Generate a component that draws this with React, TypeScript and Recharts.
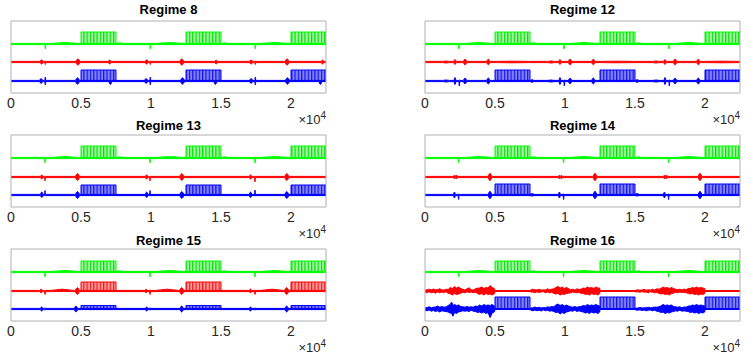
import React from 'react';
import { ComposedChart, Area, XAxis, YAxis } from 'recharts';

type Feature = [number, number, number, number]; // [x, halfWidth, up, down]
type Noise = [number, number, number]; // [x, down, up]

const X_MAX = 22500;
const Y_MAX = 7.2;
const X_TICKS = [0, 5000, 10000, 15000, 20000];
const X_TICK_LABELS = ['0', '0.5', '1', '1.5', '2'];
const Y_TICKS = [2.4];
const BLOCK_SPANS: [number, number][] = [[5000, 7500], [12500, 15000], [20000, 22500]];
const TITLES = ['Regime 8', 'Regime 12', 'Regime 13', 'Regime 14', 'Regime 15', 'Regime 16'];

// ---- Regime 8 ----
const R8_LEVELS = { green: [4.9, 6.1], red: [3.1], blue: [1.2, 2.3] };
const R8_GREEN: Feature[] = [[2450, 40, 0.05, 0.5], [3850, 950, 0.15, 0.06], [7750, 250, 0.12, 0.05], [9950, 40, 0.05, 0.5], [11350, 950, 0.15, 0.06], [15250, 250, 0.12, 0.05], [17450, 40, 0.05, 0.5], [18850, 950, 0.15, 0.06]];
const R8_RED: Feature[] = [[2190, 130, 0.22, 0.22], [2450, 40, 0.08, 0.25], [4780, 170, 0.32, 0.32], [7050, 120, 0.2, 0.2], [9690, 130, 0.22, 0.22], [9950, 40, 0.08, 0.25], [12200, 170, 0.32, 0.32], [14650, 120, 0.2, 0.2], [17150, 130, 0.22, 0.22], [17450, 40, 0.08, 0.25], [19720, 170, 0.32, 0.32], [22250, 110, 0.2, 0.2]];
const R8_BLUE: Feature[] = [[2150, 130, 0.25, 0.25], [2450, 40, 0.4, 0.4], [4750, 170, 0.32, 0.32], [7100, 130, 0.05, 0.35], [9650, 130, 0.25, 0.25], [9950, 40, 0.4, 0.4], [12250, 170, 0.32, 0.32], [14600, 130, 0.05, 0.35], [17150, 130, 0.25, 0.25], [17450, 40, 0.4, 0.4], [19750, 170, 0.32, 0.32], [22100, 130, 0.05, 0.35]];

// ---- Regime 12 ----
const R12_LEVELS = { green: [4.9, 6.1], red: [3.1], blue: [1.2, 2.3] };
const R12_GREEN: Feature[] = [[2420, 40, 0.05, 0.5], [3850, 950, 0.15, 0.06], [7750, 250, 0.12, 0.05], [9930, 40, 0.05, 0.5], [11350, 950, 0.15, 0.06], [15250, 250, 0.12, 0.05], [17430, 40, 0.05, 0.5], [18850, 950, 0.15, 0.06]];
const R12_RED: Feature[] = [[1500, 250, 0.1, 0.1], [2140, 110, 0.25, 0.25], [2860, 140, 0.3, 0.3], [4520, 140, 0.28, 0.28], [6250, 1150, 0.08, 0.08], [9000, 250, 0.1, 0.1], [9640, 110, 0.25, 0.25], [10360, 140, 0.3, 0.3], [12020, 140, 0.28, 0.28], [13750, 1150, 0.08, 0.08], [16500, 250, 0.1, 0.1], [17140, 110, 0.25, 0.25], [17860, 140, 0.3, 0.3], [19520, 140, 0.28, 0.28], [21250, 1150, 0.08, 0.08]];
const R12_BLUE: Feature[] = [[1500, 250, 0.1, 0.1], [2140, 80, 0.35, 0.35], [2450, 40, 0.1, 0.5], [2860, 140, 0.3, 0.3], [4520, 140, 0.3, 0.3], [7650, 120, 0.15, 0.15], [9000, 250, 0.1, 0.1], [9640, 80, 0.35, 0.35], [9950, 40, 0.1, 0.5], [10360, 140, 0.3, 0.3], [12020, 140, 0.3, 0.3], [15150, 120, 0.15, 0.15], [16500, 250, 0.1, 0.1], [17140, 80, 0.35, 0.35], [17450, 40, 0.1, 0.5], [17860, 140, 0.3, 0.3], [19520, 140, 0.3, 0.3]];

// ---- Regime 13 ----
const R13_LEVELS = { green: [4.9, 6.1], red: [3.0], blue: [1.2, 2.2] };
const R13_GREEN: Feature[] = [[2430, 40, 0.05, 0.5], [3850, 950, 0.15, 0.06], [7750, 250, 0.12, 0.05], [9930, 40, 0.05, 0.5], [11350, 950, 0.15, 0.06], [15250, 250, 0.12, 0.05], [17430, 40, 0.05, 0.5], [18850, 950, 0.15, 0.06]];
const R13_RED: Feature[] = [[2200, 120, 0.2, 0.2], [2430, 40, 0.05, 0.4], [4750, 170, 0.35, 0.35], [9690, 120, 0.2, 0.2], [9930, 40, 0.05, 0.4], [12200, 170, 0.35, 0.35], [17110, 120, 0.2, 0.2], [17430, 40, 0.05, 0.5], [19700, 170, 0.35, 0.35]];
const R13_BLUE: Feature[] = [[2200, 120, 0.3, 0.25], [2430, 40, 0.45, 0.1], [4750, 170, 0.35, 0.35], [9690, 120, 0.3, 0.25], [9930, 40, 0.45, 0.1], [12200, 170, 0.35, 0.35], [17110, 120, 0.3, 0.25], [17430, 40, 0.5, 0.1], [19700, 170, 0.35, 0.35]];

// ---- Regime 14 ----
const R14_LEVELS = { green: [4.9, 6.1], red: [3.0], blue: [1.2, 2.3] };
const R14_GREEN: Feature[] = [[2400, 40, 0.05, 0.5], [3850, 950, 0.15, 0.06], [7750, 250, 0.12, 0.05], [9900, 40, 0.05, 0.5], [11350, 950, 0.15, 0.06], [15250, 250, 0.12, 0.05], [17400, 40, 0.05, 0.5], [18850, 950, 0.15, 0.06]];
const R14_RED: Feature[] = [[2100, 60, 0.2, 0.2], [2250, 60, 0.2, 0.2], [4640, 160, 0.38, 0.38], [9600, 60, 0.2, 0.2], [9750, 60, 0.2, 0.2], [12140, 160, 0.38, 0.38], [17100, 60, 0.2, 0.2], [17250, 60, 0.2, 0.2], [19640, 160, 0.38, 0.38]];
const R14_BLUE: Feature[] = [[2100, 80, 0.3, 0.3], [2400, 40, 0.1, 0.45], [4640, 160, 0.38, 0.38], [7650, 150, 0.15, 0.1], [9600, 80, 0.3, 0.3], [9900, 40, 0.1, 0.45], [12140, 160, 0.38, 0.38], [15150, 150, 0.15, 0.1], [17100, 80, 0.3, 0.3], [17400, 40, 0.1, 0.45], [19640, 160, 0.38, 0.38]];

// ---- Regime 15 ----
const R15_LEVELS = { green: [4.9, 6.0], red: [3.0, 3.9], blue: [1.2, 1.55] };
const R15_GREEN: Feature[] = [[2430, 40, 0.05, 0.5], [3850, 950, 0.15, 0.06], [7750, 250, 0.12, 0.05], [9930, 40, 0.05, 0.5], [11350, 950, 0.15, 0.06], [15250, 250, 0.12, 0.05], [17430, 40, 0.05, 0.5], [18850, 950, 0.15, 0.06]];
const R15_RED: Feature[] = [[2150, 100, 0.2, 0.2], [2430, 40, 0.1, 0.35], [3650, 800, 0.18, 0.05], [4740, 170, 0.35, 0.35], [9650, 100, 0.2, 0.2], [9930, 40, 0.1, 0.35], [11150, 800, 0.18, 0.05], [12190, 170, 0.35, 0.35], [17100, 100, 0.2, 0.2], [17430, 40, 0.1, 0.35], [18650, 800, 0.18, 0.05], [19690, 170, 0.35, 0.35]];
const R15_BLUE: Feature[] = [[2190, 110, 0.2, 0.2], [2430, 40, 0.12, 0.12], [4640, 150, 0.3, 0.3], [9690, 110, 0.2, 0.2], [9930, 40, 0.12, 0.12], [12190, 150, 0.3, 0.3], [17100, 110, 0.2, 0.2], [17430, 40, 0.12, 0.12], [19690, 150, 0.3, 0.3]];

// ---- Regime 16 ----
const R16_LEVELS = { green: [4.9, 6.0], red: [3.0], blue: [1.2, 2.4] };
const R16_GREEN: Feature[] = [[2400, 40, 0.05, 0.5], [3850, 950, 0.15, 0.06], [7750, 250, 0.12, 0.05], [9900, 40, 0.05, 0.5], [11350, 950, 0.15, 0.06], [15250, 250, 0.12, 0.05], [17400, 40, 0.05, 0.5], [18850, 950, 0.15, 0.06]];
const R16_RED: Noise[] = [
  [0, 0.1, 0.08], [150, 0.15, 0.12], [300, 0.08, 0.18], [450, 0.18, 0.1], [600, 0.12, 0.2], [750, 0.22, 0.12], [900, 0.08, 0.15], [1050, 0.18, 0.22], [1200, 0.1, 0.12], [1350, 0.15, 0.08], [1500, 0.08, 0.18], [1650, 0.22, 0.15], [1800, 0.28, 0.35], [1950, 0.4, 0.25], [2100, 0.25, 0.45], [2250, 0.35, 0.3], [2400, 0.3, 0.4], [2550, 0.22, 0.25], [2700, 0.12, 0.18], [2850, 0.18, 0.1], [3000, 0.08, 0.22], [3150, 0.15, 0.32], [3300, 0.1, 0.12], [3450, 0.18, 0.1], [3600, 0.12, 0.22], [3750, 0.25, 0.28], [3900, 0.35, 0.3], [4050, 0.25, 0.4], [4200, 0.4, 0.25], [4350, 0.25, 0.35], [4500, 0.35, 0.3], [4650, 0.3, 0.55], [4800, 0.4, 0.35], [4950, 0.28, 0.25],
  [5000, 0.05, 0.05], [7500, 0.05, 0.05],
  [7550, 0.12, 0.1], [7700, 0.1, 0.18], [7850, 0.18, 0.12], [8000, 0.08, 0.1], [8150, 0.15, 0.18], [8300, 0.1, 0.08], [8450, 0.06, 0.12], [8600, 0.18, 0.1], [8750, 0.1, 0.22], [8900, 0.18, 0.12], [9050, 0.12, 0.18], [9200, 0.25, 0.22], [9350, 0.3, 0.35], [9500, 0.25, 0.45], [9650, 0.4, 0.3], [9800, 0.3, 0.4], [9950, 0.35, 0.25], [10100, 0.25, 0.35], [10250, 0.22, 0.25], [10400, 0.18, 0.12], [10550, 0.1, 0.18], [10700, 0.15, 0.1], [10850, 0.18, 0.22], [11000, 0.12, 0.15], [11150, 0.25, 0.18], [11300, 0.22, 0.3], [11450, 0.35, 0.25], [11600, 0.3, 0.4], [11750, 0.4, 0.3], [11900, 0.25, 0.35], [12050, 0.35, 0.25], [12200, 0.3, 0.4], [12350, 0.4, 0.3], [12480, 0.25, 0.3],
  [12500, 0.05, 0.05], [15000, 0.05, 0.05],
  [15050, 0.1, 0.08], [15200, 0.08, 0.12], [15350, 0.12, 0.08], [15500, 0.06, 0.1], [15650, 0.12, 0.15], [15800, 0.1, 0.08], [15950, 0.18, 0.12], [16100, 0.08, 0.1], [16250, 0.12, 0.18], [16400, 0.18, 0.1], [16550, 0.15, 0.22], [16700, 0.22, 0.18], [16850, 0.3, 0.25], [17000, 0.25, 0.4], [17150, 0.35, 0.3], [17300, 0.3, 0.35], [17450, 0.4, 0.25], [17600, 0.25, 0.35], [17750, 0.22, 0.25], [17900, 0.12, 0.18], [18050, 0.18, 0.12], [18200, 0.1, 0.18], [18350, 0.15, 0.1], [18500, 0.12, 0.2], [18650, 0.18, 0.12], [18800, 0.22, 0.25], [18950, 0.3, 0.25], [19100, 0.25, 0.35], [19250, 0.35, 0.3], [19400, 0.3, 0.4], [19550, 0.4, 0.3], [19700, 0.3, 0.35], [19850, 0.35, 0.3], [19980, 0.25, 0.25],
  [20000, 0.05, 0.05], [22500, 0.05, 0.05],
];
const R16_BLUE: Noise[] = [
  [0, 0.12, 0.1], [150, 0.18, 0.15], [300, 0.1, 0.22], [450, 0.22, 0.12], [600, 0.15, 0.18], [750, 0.25, 0.2], [900, 0.18, 0.3], [1050, 0.3, 0.18], [1200, 0.18, 0.25], [1350, 0.22, 0.18], [1500, 0.25, 0.2], [1650, 0.3, 0.35], [1800, 0.4, 0.45], [1900, 0.45, 0.7], [2000, 0.72, 0.35], [2100, 0.35, 0.45], [2250, 0.45, 0.35], [2400, 0.3, 0.4], [2550, 0.25, 0.25], [2700, 0.18, 0.22], [2850, 0.22, 0.18], [3000, 0.18, 0.25], [3150, 0.25, 0.18], [3300, 0.12, 0.22], [3450, 0.22, 0.18], [3600, 0.25, 0.3], [3750, 0.35, 0.25], [3900, 0.3, 0.4], [4050, 0.4, 0.3], [4200, 0.3, 0.45], [4350, 0.45, 0.35], [4500, 0.35, 0.4], [4650, 0.85, 0.35], [4800, 0.4, 0.45], [4950, 0.3, 0.3],
  [5000, 0.05, 0.05], [7500, 0.05, 0.05],
  [7550, 0.12, 0.1], [7700, 0.18, 0.12], [7850, 0.1, 0.2], [8000, 0.18, 0.12], [8150, 0.12, 0.18], [8300, 0.2, 0.1], [8450, 0.08, 0.15], [8600, 0.18, 0.12], [8750, 0.12, 0.22], [8900, 0.22, 0.18], [9050, 0.18, 0.25], [9200, 0.25, 0.22], [9350, 0.35, 0.4], [9500, 0.3, 0.5], [9650, 0.5, 0.35], [9800, 0.35, 0.45], [9950, 0.45, 0.3], [10100, 0.3, 0.4], [10250, 0.25, 0.3], [10400, 0.18, 0.22], [10550, 0.22, 0.18], [10700, 0.12, 0.25], [10850, 0.25, 0.18], [11000, 0.18, 0.22], [11150, 0.25, 0.25], [11300, 0.3, 0.35], [11450, 0.4, 0.3], [11600, 0.35, 0.45], [11750, 0.45, 0.35], [11900, 0.3, 0.4], [12050, 0.4, 0.35], [12200, 0.35, 0.45], [12350, 0.45, 0.35], [12480, 0.3, 0.3],
  [12500, 0.05, 0.05], [15000, 0.05, 0.05],
  [15050, 0.1, 0.08], [15200, 0.12, 0.1], [15350, 0.08, 0.15], [15500, 0.15, 0.1], [15650, 0.1, 0.12], [15800, 0.18, 0.12], [15950, 0.12, 0.18], [16100, 0.1, 0.12], [16250, 0.18, 0.15], [16400, 0.12, 0.2], [16550, 0.22, 0.18], [16700, 0.25, 0.22], [16850, 0.35, 0.3], [17000, 0.3, 0.45], [17150, 0.45, 0.35], [17300, 0.35, 0.4], [17450, 0.4, 0.35], [17600, 0.3, 0.4], [17750, 0.25, 0.25], [17900, 0.18, 0.22], [18050, 0.22, 0.18], [18200, 0.12, 0.22], [18350, 0.22, 0.12], [18500, 0.18, 0.2], [18650, 0.22, 0.18], [18800, 0.25, 0.3], [18950, 0.35, 0.3], [19100, 0.3, 0.4], [19250, 0.4, 0.35], [19400, 0.35, 0.45], [19550, 0.45, 0.35], [19700, 0.35, 0.4], [19850, 0.4, 0.35], [19980, 0.3, 0.3],
  [20000, 0.05, 0.05], [22500, 0.05, 0.05],
];

const FONT = '"Liberation Sans", Arial, Helvetica, sans-serif';
const AXIS = '#b0b0b0';
const TICK_TEXT = '#262626';
const COLORS: Record<string, string> = { green: '#00ff00', red: '#ff0000', blue: '#0000ff' };
const THIN = 0.06;

type Signal = { color: string; base: number; top?: number; features?: Feature[]; noise?: Noise[] };

function featureData(base: number, features: Feature[]) {
  const pts: { x: number; v: [number, number] }[] = [{ x: 0, v: [base - THIN, base + THIN] }];
  features.forEach(([xc, hw, up, dn]) => {
    pts.push({ x: xc - hw, v: [base - THIN, base + THIN] });
    pts.push({ x: xc, v: [base - dn, base + up] });
    pts.push({ x: xc + hw, v: [base - THIN, base + THIN] });
  });
  pts.push({ x: X_MAX, v: [base - THIN, base + THIN] });
  return pts;
}

function noiseData(base: number, noise: Noise[]) {
  return noise.map(([x, dn, up]) => ({ x, v: [base - dn, base + up] as [number, number] }));
}

function blockData(base: number, top: number) {
  const pts: { x: number; v: [number, number] }[] = [];
  BLOCK_SPANS.forEach(([s, e]) => {
    pts.push({ x: s, v: [base, base] });
    pts.push({ x: s, v: [base, top] });
    pts.push({ x: e, v: [base, top] });
    pts.push({ x: e, v: [base, base] });
  });
  return pts;
}

function makeSignals(levels: { green: number[]; red: number[]; blue: number[] }, g: Feature[], r: Feature[] | Noise[], b: Feature[] | Noise[], noisy = false): Signal[] {
  return [
    { color: 'green', base: levels.green[0], top: levels.green[1], features: g },
    noisy ? { color: 'red', base: levels.red[0], top: levels.red[1], noise: r as Noise[] } : { color: 'red', base: levels.red[0], top: levels.red[1], features: r as Feature[] },
    noisy ? { color: 'blue', base: levels.blue[0], top: levels.blue[1], noise: b as Noise[] } : { color: 'blue', base: levels.blue[0], top: levels.blue[1], features: b as Feature[] },
  ];
}

const PANELS = [
  { title: TITLES[0], left: 11, bottom: 93, titleTop: 3, signals: makeSignals(R8_LEVELS, R8_GREEN, R8_RED, R8_BLUE) },
  { title: TITLES[1], left: 425, bottom: 93, titleTop: 3, signals: makeSignals(R12_LEVELS, R12_GREEN, R12_RED, R12_BLUE) },
  { title: TITLES[2], left: 11, bottom: 207, titleTop: 119, signals: makeSignals(R13_LEVELS, R13_GREEN, R13_RED, R13_BLUE) },
  { title: TITLES[3], left: 425, bottom: 207, titleTop: 119, signals: makeSignals(R14_LEVELS, R14_GREEN, R14_RED, R14_BLUE) },
  { title: TITLES[4], left: 11, bottom: 321, titleTop: 234, signals: makeSignals(R15_LEVELS, R15_GREEN, R15_RED, R15_BLUE) },
  { title: TITLES[5], left: 425, bottom: 321, titleTop: 234, signals: makeSignals(R16_LEVELS, R16_GREEN, R16_RED, R16_BLUE, true) },
];

const PW = 315, PH = 72, ML = 30, MR = 20, MT = 30, MB = 20, XH = 30;

function Panel({ title, left, bottom, titleTop, signals }: { title: string; left: number; bottom: number; titleTop: number; signals: Signal[] }) {
  const W = ML + PW + MR;
  const H = MT + PH + XH + MB;
  const top = bottom - PH;
  const common = { type: 'number' as const, domain: [0, X_MAX], allowDataOverflow: true, ticks: X_TICKS, interval: 0 as const };
  const yCommon = { type: 'number' as const, domain: [0, Y_MAX], allowDataOverflow: true, ticks: Y_TICKS, interval: 0 as const };
  return (
    <>
      <div style={{ position: 'absolute', left: left - ML, top: top - MT, width: W, height: H }}>
        <ComposedChart width={W} height={H} margin={{ top: MT, right: MR, bottom: MB, left: ML }}>
          <XAxis xAxisId="b" dataKey="x" {...common} height={XH} tickLine={false} tickSize={0} tickMargin={5}
            axisLine={{ stroke: AXIS }} tickFormatter={(v: number) => X_TICK_LABELS[X_TICKS.indexOf(v)]}
            tick={{ fontSize: 14, fill: TICK_TEXT, fontFamily: FONT }} />
          <XAxis xAxisId="bm" orientation="bottom" mirror {...common} height={1} tick={false} tickSize={3} axisLine={false} tickLine={{ stroke: AXIS }} />
          <XAxis xAxisId="t" orientation="top" mirror {...common} height={1} tick={false} tickSize={3} axisLine={{ stroke: AXIS }} tickLine={{ stroke: AXIS }} />
          <YAxis yAxisId="l" orientation="left" mirror width={1} {...yCommon} tick={false} tickSize={3} axisLine={{ stroke: AXIS }} tickLine={{ stroke: AXIS }} />
          <YAxis yAxisId="r" orientation="right" mirror width={1} {...yCommon} tick={false} tickSize={3} axisLine={{ stroke: AXIS }} tickLine={{ stroke: AXIS }} />
          {signals.flatMap((s) => {
            const col = COLORS[s.color];
            const items = [];
            if (s.top !== undefined) {
              items.push(
                <Area key={s.color + '-block'} xAxisId="b" yAxisId="l" data={blockData(s.base, s.top)} dataKey="v" type="linear"
                  stroke={col} strokeWidth={1} fill={`url(#pat-${s.color})`} fillOpacity={1} isAnimationActive={false} dot={false} activeDot={false} />
              );
            }
            const d = s.noise ? noiseData(s.base, s.noise) : featureData(s.base, s.features || []);
            items.push(
              <Area key={s.color + '-sig'} xAxisId="b" yAxisId="l" data={d} dataKey="v" type={s.noise ? 'linear' : 'monotoneX'}
                stroke={col} strokeWidth={1} fill={col} fillOpacity={1} isAnimationActive={false} dot={false} activeDot={false} />
            );
            return items;
          })}
        </ComposedChart>
      </div>
      <div style={{ position: 'absolute', left, width: PW, top: titleTop, textAlign: 'center', fontFamily: FONT, fontWeight: 'bold', fontSize: 13, lineHeight: '14px', color: '#000' }}>
        {title}
      </div>
      <div style={{ position: 'absolute', left: left + PW - 60, width: 60, top: bottom + 20, textAlign: 'right', fontFamily: FONT, fontSize: 13, lineHeight: '14px', color: TICK_TEXT }}>
        ×10<span style={{ fontSize: 10, position: 'relative', top: -5 }}>4</span>
      </div>
    </>
  );
}

export default function App() {
  return (
    <div style={{ position: 'absolute', left: 0, top: 0, width: 747, height: 355, background: '#fff', overflow: 'hidden' }}>
      <svg width={0} height={0} style={{ position: 'absolute' }}>
        <defs>
          <pattern id="pat-green" patternUnits="userSpaceOnUse" width={3.3} height={20}>
            <rect x={0} y={0} width={3.3} height={20} fill="#a4f7a4" />
            <rect x={0} y={0} width={1.2} height={20} fill="#00e000" />
          </pattern>
          <pattern id="pat-red" patternUnits="userSpaceOnUse" width={3.3} height={20}>
            <rect x={0} y={0} width={3.3} height={20} fill="#ff9a9a" />
            <rect x={0} y={0} width={1.2} height={20} fill="#f01818" />
          </pattern>
          <pattern id="pat-blue" patternUnits="userSpaceOnUse" width={3.3} height={20}>
            <rect x={0} y={0} width={3.3} height={20} fill="#8282f6" />
            <rect x={0} y={0} width={1.2} height={20} fill="#1414e8" />
          </pattern>
        </defs>
      </svg>
      {PANELS.map((p) => (
        <Panel key={p.title} {...p} />
      ))}
    </div>
  );
}
